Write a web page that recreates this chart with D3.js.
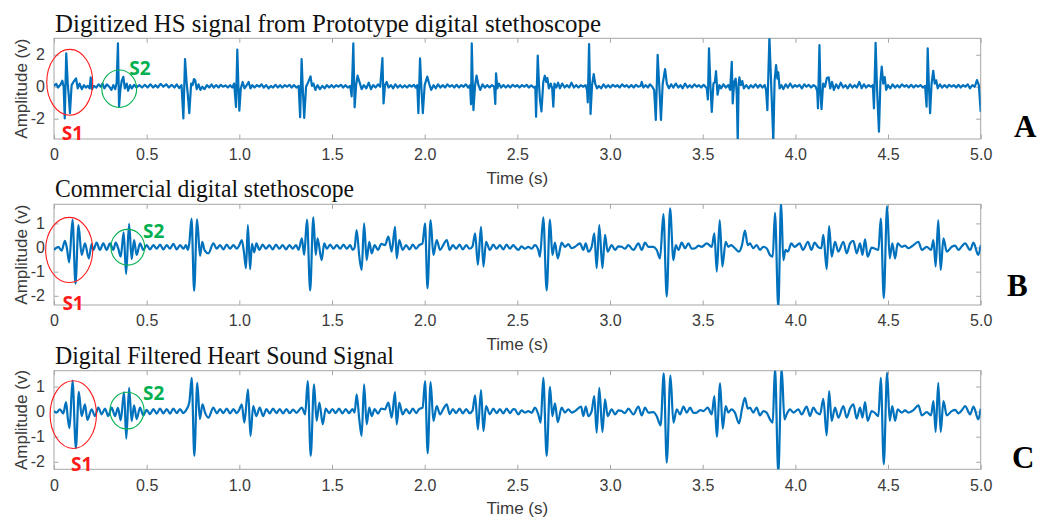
<!DOCTYPE html>
<html>
<head>
<meta charset="utf-8">
<script src="https://cdn.jsdelivr.net/npm/d3@7"></script>
<style>
  html, body { margin: 0; padding: 0; background: #fff; }
  svg { display: block; }
</style>
</head>
<body>
<svg id="chart" width="1038" height="517"></svg>
<script>
// ---- Data: heart sound recordings, time (s) and amplitude (v) ----
const timeTicks = [0, 0.5, 1.0, 1.5, 2.0, 2.5, 3.0, 3.5, 4.0, 4.5, 5.0];
const ampTicksA = [-2, 0, 2];
const ampTicksB = [-2, -1, 0, 1];
const ampTicksC = [-2, -1, 0, 1];
const titles = [
  "Digitized HS signal from Prototype digital stethoscope",
  "Commercial digital stethoscope",
  "Digital Filtered Heart Sound Signal"
];
const panelLetters = ["A", "B", "C"];

// Prototype stethoscope, raw digitized signal
const sigA = [
[0.000,0.05],[0.012,0.18],[0.022,-0.05],[0.035,0.12],[0.045,0.38],[0.052,0.0],[0.058,-1.98],[0.066,2.09],[0.074,0.2],[0.080,-0.6],[0.086,-1.66],[0.095,0.1],[0.105,0.3],[0.119,0.52],[0.128,-0.1],[0.138,0.2],[0.150,-0.15],[0.162,0.1],[0.172,-0.05],[0.182,0.05],[0.192,-0.1],[0.198,0.58],[0.205,-0.15],[0.215,0.05],[0.228,-0.05],[0.240,0.15],[0.252,0.0],[0.262,0.2],[0.272,-0.1],[0.285,0.15],[0.298,0.0],[0.310,-0.2],[0.320,0.1],[0.330,-0.15],[0.338,0.25],[0.345,2.71],[0.351,-1.25],[0.358,-0.2],[0.365,0.35],[0.374,0.62],[0.382,-0.1],[0.392,0.2],[0.400,-0.25],[0.410,0.1],[0.420,-0.1],[0.432,0.12],[0.445,-0.05],[0.460,0.1],[0.475,-0.05],[0.490,0.12],[0.505,-0.05],[0.520,0.15],[0.535,-0.05],[0.548,0.1],[0.560,-0.05],[0.575,0.18],[0.590,0.0],[0.605,0.15],[0.620,-0.05],[0.635,0.12],[0.650,-0.05],[0.662,0.15],[0.675,-0.08],[0.688,0.1],[0.698,-1.98],[0.707,1.73],[0.716,0.2],[0.722,-0.5],[0.730,-1.66],[0.740,0.2],[0.748,0.1],[0.755,0.48],[0.762,0.4],[0.770,-0.15],[0.780,0.15],[0.790,-0.2],[0.800,0.0],[0.812,-0.15],[0.825,0.1],[0.838,-0.05],[0.850,0.15],[0.862,-0.05],[0.875,0.1],[0.888,-0.05],[0.900,0.12],[0.912,0.0],[0.925,0.08],[0.938,-0.05],[0.950,0.1],[0.962,-0.05],[0.972,0.2],[0.982,-1.27],[0.989,2.33],[0.995,0.0],[1.000,-1.5],[1.008,-0.1],[1.018,0.3],[1.028,-0.1],[1.040,0.1],[1.050,0.3],[1.060,-0.1],[1.070,0.1],[1.082,-0.05],[1.095,0.1],[1.108,0.0],[1.120,0.15],[1.132,-0.05],[1.145,0.1],[1.158,-0.1],[1.170,0.05],[1.182,-0.05],[1.195,0.12],[1.208,-0.05],[1.220,0.1],[1.232,-0.05],[1.245,0.1],[1.258,0.0],[1.270,0.12],[1.282,-0.05],[1.295,0.1],[1.308,-0.05],[1.320,0.05],[1.328,-1.9],[1.336,1.73],[1.343,-0.3],[1.350,-1.95],[1.360,0.0],[1.372,0.3],[1.384,0.65],[1.392,0.05],[1.400,0.2],[1.410,-0.2],[1.422,0.1],[1.435,-0.15],[1.448,0.05],[1.460,-0.1],[1.472,0.1],[1.485,-0.05],[1.498,0.1],[1.510,-0.05],[1.522,0.1],[1.535,0.0],[1.548,0.12],[1.560,-0.05],[1.572,0.1],[1.585,-0.05],[1.598,0.05],[1.606,-0.6],[1.615,2.71],[1.622,-1.29],[1.630,0.1],[1.638,0.69],[1.648,0.3],[1.660,-0.15],[1.672,0.1],[1.685,-0.1],[1.698,0.25],[1.710,-0.15],[1.722,0.1],[1.735,-0.05],[1.748,0.15],[1.760,0.0],[1.772,1.79],[1.778,-1.04],[1.786,0.1],[1.795,0.3],[1.805,-0.05],[1.818,0.1],[1.830,-0.1],[1.842,0.15],[1.855,-0.05],[1.868,0.1],[1.880,-0.05],[1.893,0.08],[1.905,-0.05],[1.918,0.1],[1.930,0.0],[1.942,0.12],[1.952,-0.05],[1.960,0.1],[1.966,-1.66],[1.975,1.77],[1.982,0.0],[1.990,-1.66],[2.000,0.1],[2.014,0.63],[2.024,0.2],[2.035,-0.2],[2.048,0.1],[2.060,-0.1],[2.072,0.15],[2.085,-0.05],[2.098,0.1],[2.110,-0.05],[2.122,0.15],[2.135,0.0],[2.148,0.1],[2.160,-0.05],[2.172,0.12],[2.185,-0.05],[2.198,0.1],[2.210,0.0],[2.222,0.15],[2.235,-0.05],[2.245,0.1],[2.250,-1.1],[2.254,2.71],[2.263,-1.46],[2.272,0.1],[2.280,0.7],[2.290,0.1],[2.300,-0.2],[2.312,0.15],[2.325,-0.05],[2.338,0.1],[2.350,-0.05],[2.362,0.1],[2.375,0.0],[2.381,-1.08],[2.385,0.83],[2.392,-0.1],[2.400,0.2],[2.412,-0.05],[2.425,0.1],[2.438,-0.05],[2.450,0.1],[2.462,-0.05],[2.475,0.12],[2.488,0.0],[2.500,0.1],[2.512,-0.05],[2.525,0.1],[2.538,0.0],[2.550,0.12],[2.562,-0.05],[2.575,0.08],[2.588,-0.05],[2.597,0.0],[2.601,-1.88],[2.610,1.94],[2.617,0.1],[2.622,-0.8],[2.630,-1.54],[2.640,0.3],[2.648,0.69],[2.656,0.3],[2.662,0.55],[2.670,-0.1],[2.680,0.2],[2.688,-0.1],[2.694,-1.25],[2.700,0.2],[2.710,-0.05],[2.720,0.25],[2.730,-0.1],[2.742,0.2],[2.755,-0.05],[2.768,0.1],[2.780,-0.05],[2.792,0.25],[2.805,-0.05],[2.818,0.1],[2.830,-0.05],[2.842,0.1],[2.855,0.0],[2.868,0.1],[2.876,-0.2],[2.880,-0.98],[2.887,2.67],[2.895,-1.71],[2.903,0.1],[2.912,0.79],[2.920,0.2],[2.930,-0.1],[2.940,0.05],[2.952,-0.1],[2.965,0.15],[2.978,-0.05],[2.990,0.1],[3.002,-0.05],[3.015,0.12],[3.028,0.0],[3.040,0.1],[3.052,-0.05],[3.065,0.15],[3.078,0.0],[3.090,0.1],[3.102,-0.05],[3.115,0.1],[3.128,-0.05],[3.140,0.12],[3.152,0.0],[3.165,0.05],[3.171,0.3],[3.180,-0.05],[3.192,0.1],[3.205,-0.05],[3.215,0.15],[3.228,0.0],[3.238,-0.2],[3.247,-2.08],[3.257,2.0],[3.266,0.0],[3.275,-2.08],[3.284,0.17],[3.297,1.1],[3.307,0.17],[3.318,-0.1],[3.330,0.15],[3.342,-0.05],[3.355,0.2],[3.368,-0.05],[3.380,0.1],[3.392,-0.1],[3.405,0.2],[3.418,-0.05],[3.430,0.1],[3.442,-0.05],[3.455,0.15],[3.468,0.0],[3.480,0.1],[3.492,-0.05],[3.505,0.12],[3.515,0.0],[3.522,-0.1],[3.528,-0.8],[3.534,2.4],[3.542,0.0],[3.549,-1.57],[3.558,0.2],[3.566,0.3],[3.572,0.97],[3.580,-0.5],[3.590,0.1],[3.600,-0.1],[3.612,0.15],[3.625,-0.05],[3.638,0.1],[3.648,-0.2],[3.657,1.56],[3.662,-1.04],[3.670,0.3],[3.678,0.5],[3.684,-0.5],[3.689,-3.4],[3.694,0.2],[3.698,0.58],[3.706,0.1],[3.714,0.35],[3.722,-0.1],[3.735,0.1],[3.748,-0.1],[3.760,0.1],[3.772,-0.05],[3.785,0.15],[3.798,-0.05],[3.810,0.12],[3.822,-0.05],[3.835,0.1],[3.842,-0.2],[3.849,-1.46],[3.860,3.15],[3.870,0.0],[3.881,-3.4],[3.888,0.4],[3.896,1.36],[3.903,0.5],[3.908,0.9],[3.915,-0.1],[3.925,0.1],[3.935,-0.15],[3.948,0.15],[3.960,-0.05],[3.972,0.2],[3.985,-0.05],[3.998,0.1],[4.010,0.0],[4.022,0.12],[4.035,-0.1],[4.048,0.15],[4.060,0.0],[4.072,0.12],[4.085,-0.05],[4.098,0.1],[4.110,0.0],[4.118,-0.3],[4.122,-1.35],[4.130,2.6],[4.136,-0.5],[4.141,-1.4],[4.150,0.2],[4.160,0.0],[4.170,0.55],[4.180,0.59],[4.188,-0.1],[4.198,0.3],[4.208,-0.2],[4.220,0.15],[4.232,-0.1],[4.245,0.25],[4.258,-0.05],[4.270,0.1],[4.282,-0.1],[4.295,0.15],[4.308,-0.05],[4.320,0.1],[4.332,-0.05],[4.345,0.3],[4.358,-0.1],[4.370,0.15],[4.382,-0.05],[4.395,0.1],[4.408,0.0],[4.418,0.1],[4.424,-1.35],[4.433,2.75],[4.441,-0.2],[4.451,-2.81],[4.459,0.3],[4.466,1.26],[4.474,0.2],[4.482,0.6],[4.490,-0.2],[4.500,0.1],[4.512,-0.1],[4.525,0.15],[4.538,-0.05],[4.550,0.1],[4.562,-0.05],[4.575,0.15],[4.588,0.0],[4.600,0.1],[4.612,-0.05],[4.625,0.12],[4.638,-0.05],[4.650,0.1],[4.662,0.0],[4.675,0.1],[4.688,-0.05],[4.700,0.05],[4.708,-1.25],[4.714,2.4],[4.720,0.2],[4.727,-1.66],[4.735,0.2],[4.744,1.0],[4.752,0.2],[4.760,0.4],[4.768,-0.1],[4.780,0.15],[4.792,-0.05],[4.805,0.1],[4.818,-0.05],[4.830,0.12],[4.842,0.0],[4.855,0.1],[4.868,-0.05],[4.880,0.12],[4.892,-0.05],[4.905,0.1],[4.918,0.0],[4.930,0.15],[4.942,-0.1],[4.955,0.1],[4.968,0.0],[4.980,0.42],[4.990,0.1],[5.000,-1.57]
];

// Commercial stethoscope recording
const sigB = [
[0.000,-0.10],[0.023,0.03],[0.041,-0.13],[0.059,0.28],[0.070,-0.05],[0.082,-0.62],[0.100,1.16],[0.116,-1.5],[0.132,0.93],[0.149,-0.31],[0.167,0.17],[0.188,-0.45],[0.203,0.14],[0.212,-0.1],[0.230,0.2],[0.248,-0.1],[0.266,0.17],[0.284,-0.1],[0.302,0.17],[0.320,-0.1],[0.333,0.2],[0.347,-0.05],[0.360,-0.38],[0.376,0.63],[0.389,-1.1],[0.405,0.98],[0.419,-0.48],[0.432,0.31],[0.446,-0.31],[0.464,0.17],[0.482,-0.1],[0.500,0.1],[0.518,-0.08],[0.536,0.1],[0.554,-0.05],[0.572,0.12],[0.590,-0.08],[0.608,0.1],[0.626,-0.05],[0.644,0.15],[0.662,-0.08],[0.680,0.1],[0.698,-0.05],[0.712,0.1],[0.722,-0.1],[0.730,0.17],[0.742,1.2],[0.756,-1.8],[0.772,1.17],[0.788,-0.35],[0.800,0.24],[0.812,-0.1],[0.833,-0.24],[0.860,0.17],[0.878,-0.05],[0.896,0.1],[0.914,-0.08],[0.932,0.12],[0.950,-0.05],[0.968,0.1],[0.986,-0.05],[1.000,0.1],[1.013,0.31],[1.025,-0.2],[1.036,-0.86],[1.046,0.93],[1.058,-0.9],[1.068,0.15],[1.080,-0.2],[1.092,0.17],[1.108,-0.1],[1.126,0.12],[1.144,-0.05],[1.162,0.1],[1.180,-0.08],[1.198,0.12],[1.216,-0.05],[1.234,0.1],[1.252,-0.08],[1.270,0.1],[1.288,-0.05],[1.306,0.1],[1.320,-0.1],[1.337,0.38],[1.350,-0.3],[1.365,1.16],[1.382,-1.78],[1.399,1.25],[1.412,-0.3],[1.422,0.38],[1.444,-0.52],[1.458,0.17],[1.472,-0.05],[1.490,0.12],[1.508,-0.05],[1.526,0.1],[1.544,-0.05],[1.562,0.12],[1.580,-0.05],[1.598,0.1],[1.612,-0.1],[1.622,0.0],[1.633,0.72],[1.647,-0.35],[1.660,-0.93],[1.673,1.0],[1.687,-0.52],[1.701,0.24],[1.714,-0.24],[1.730,0.1],[1.748,-0.1],[1.766,0.15],[1.786,0.1],[1.804,0.45],[1.822,-0.17],[1.840,0.86],[1.849,-0.45],[1.863,0.31],[1.881,-0.1],[1.900,0.1],[1.918,-0.08],[1.936,0.12],[1.954,-0.05],[1.970,0.1],[1.988,0.17],[2.002,1.0],[2.015,-1.69],[2.032,1.14],[2.047,-0.31],[2.065,0.31],[2.083,-0.1],[2.100,0.1],[2.119,0.31],[2.135,-0.1],[2.152,0.1],[2.170,-0.05],[2.188,0.12],[2.206,-0.08],[2.224,0.1],[2.242,-0.05],[2.258,0.05],[2.272,0.59],[2.287,-0.72],[2.304,0.86],[2.317,-0.79],[2.331,0.24],[2.352,-0.1],[2.370,0.12],[2.388,-0.05],[2.406,0.1],[2.424,-0.08],[2.442,0.12],[2.460,-0.05],[2.478,0.1],[2.487,0.03],[2.505,-0.1],[2.523,0.05],[2.541,-0.05],[2.559,0.03],[2.577,-0.05],[2.595,0.1],[2.613,-0.1],[2.622,-0.38],[2.640,1.25],[2.658,-1.78],[2.676,1.16],[2.689,-0.31],[2.703,0.2],[2.718,-0.45],[2.739,0.2],[2.757,0.03],[2.775,0.14],[2.793,-0.03],[2.811,0.03],[2.838,0.17],[2.856,-0.1],[2.869,0.17],[2.883,-0.17],[2.901,0.03],[2.915,0.59],[2.928,-0.86],[2.942,0.93],[2.959,-0.86],[2.973,0.52],[2.987,-0.17],[3.009,0.1],[3.027,-0.1],[3.045,0.05],[3.063,0.03],[3.081,-0.05],[3.099,0.1],[3.126,-0.1],[3.153,0.17],[3.171,-0.1],[3.189,0.2],[3.207,0.03],[3.234,0.03],[3.252,-0.1],[3.270,-0.45],[3.288,1.38],[3.306,-2.03],[3.324,1.62],[3.342,-0.52],[3.355,0.1],[3.369,-0.1],[3.387,0.2],[3.405,-0.03],[3.423,0.17],[3.441,-0.05],[3.459,-0.03],[3.477,0.08],[3.495,0.03],[3.522,0.17],[3.549,0.03],[3.563,0.59],[3.576,-1.0],[3.592,1.14],[3.606,-0.79],[3.624,0.24],[3.638,0.03],[3.653,0.1],[3.674,-0.03],[3.696,-0.17],[3.712,0.1],[3.728,0.7],[3.743,0.1],[3.755,0.17],[3.773,-0.03],[3.791,0.1],[3.809,-0.1],[3.827,0.03],[3.845,-0.03],[3.863,-0.31],[3.878,-0.38],[3.890,1.44],[3.908,-2.5],[3.923,1.9],[3.935,-0.52],[3.947,-0.1],[3.960,-0.17],[3.978,0.17],[3.996,0.03],[4.023,0.17],[4.041,-0.1],[4.068,0.24],[4.086,-0.1],[4.104,0.2],[4.122,0.03],[4.140,-0.03],[4.151,0.52],[4.169,-0.9],[4.182,0.89],[4.196,-0.38],[4.214,0.24],[4.232,-0.17],[4.259,0.24],[4.277,-0.24],[4.295,0.17],[4.313,0.28],[4.331,-0.24],[4.349,0.17],[4.362,-0.31],[4.376,0.34],[4.390,-0.38],[4.412,0.0],[4.430,-0.05],[4.448,-0.1],[4.461,1.2],[4.477,-2.1],[4.495,1.72],[4.509,-0.45],[4.523,0.17],[4.538,-0.45],[4.552,0.17],[4.574,0.03],[4.592,0.08],[4.610,-0.03],[4.637,0.1],[4.664,0.24],[4.682,-0.1],[4.709,0.03],[4.732,-0.1],[4.745,0.31],[4.757,-0.79],[4.771,1.14],[4.784,-0.93],[4.799,0.38],[4.817,-0.17],[4.844,0.03],[4.862,0.08],[4.880,-0.1],[4.898,0.05],[4.916,0.17],[4.943,-0.1],[4.961,0.2],[4.987,-0.31],[5.000,0.1]
];

// Same recording after digital filtering
const sigC = [
[0.000,0.02],[0.014,-0.04],[0.032,0.09],[0.050,-0.07],[0.065,0.38],[0.075,-0.3],[0.084,-0.66],[0.100,1.24],[0.118,-1.46],[0.134,0.79],[0.149,-0.18],[0.167,0.29],[0.180,-0.33],[0.203,0.09],[0.221,-0.18],[0.239,0.16],[0.257,-0.11],[0.275,0.12],[0.293,-0.18],[0.311,0.16],[0.329,-0.18],[0.345,0.15],[0.360,-0.35],[0.378,0.78],[0.390,-1.08],[0.405,0.95],[0.419,-0.37],[0.432,0.25],[0.446,-0.3],[0.464,0.16],[0.482,-0.15],[0.500,0.07],[0.518,-0.1],[0.536,0.1],[0.554,-0.08],[0.572,0.12],[0.590,-0.07],[0.608,0.1],[0.626,-0.08],[0.644,0.12],[0.662,-0.06],[0.680,0.1],[0.698,-0.06],[0.712,0.05],[0.730,0.36],[0.743,1.35],[0.757,-1.77],[0.773,1.15],[0.787,-0.3],[0.801,0.29],[0.815,-0.04],[0.833,-0.24],[0.860,0.16],[0.878,-0.07],[0.896,0.1],[0.914,-0.06],[0.932,0.12],[0.950,-0.07],[0.968,0.1],[0.986,-0.06],[1.000,0.08],[1.013,0.29],[1.027,-0.44],[1.047,0.89],[1.060,-0.97],[1.075,0.22],[1.092,-0.18],[1.110,0.16],[1.128,-0.18],[1.146,0.1],[1.164,-0.07],[1.182,0.12],[1.200,-0.06],[1.218,0.1],[1.236,-0.07],[1.254,0.1],[1.272,-0.06],[1.290,0.08],[1.308,-0.05],[1.337,0.16],[1.355,-0.11],[1.369,1.22],[1.385,-1.77],[1.403,1.09],[1.417,-0.37],[1.432,0.36],[1.450,-0.51],[1.466,0.12],[1.484,-0.06],[1.502,0.1],[1.520,-0.06],[1.538,0.12],[1.556,-0.07],[1.574,0.1],[1.592,-0.06],[1.610,0.1],[1.622,-0.04],[1.633,0.69],[1.647,-0.3],[1.660,-0.97],[1.673,1.09],[1.687,-0.51],[1.701,0.16],[1.714,-0.18],[1.730,0.1],[1.748,-0.08],[1.766,0.12],[1.786,0.09],[1.804,0.36],[1.822,-0.24],[1.840,0.78],[1.849,-0.51],[1.863,0.36],[1.881,-0.11],[1.900,0.1],[1.918,-0.07],[1.936,0.12],[1.954,-0.06],[1.970,0.1],[1.989,0.16],[2.002,1.22],[2.016,-1.66],[2.032,1.18],[2.047,-0.37],[2.065,0.22],[2.083,-0.11],[2.100,0.1],[2.119,0.29],[2.135,-0.1],[2.152,0.1],[2.170,-0.06],[2.188,0.12],[2.206,-0.07],[2.224,0.1],[2.242,-0.06],[2.258,0.04],[2.272,0.65],[2.287,-0.71],[2.304,0.86],[2.317,-0.78],[2.331,0.22],[2.352,-0.11],[2.370,0.12],[2.388,-0.06],[2.406,0.1],[2.424,-0.07],[2.442,0.12],[2.460,-0.06],[2.478,0.1],[2.487,0.09],[2.505,-0.11],[2.523,0.05],[2.541,-0.04],[2.559,0.02],[2.577,-0.05],[2.595,0.16],[2.613,-0.11],[2.626,-0.44],[2.640,1.35],[2.658,-1.77],[2.676,0.99],[2.689,-0.18],[2.703,0.33],[2.718,-0.42],[2.739,0.16],[2.757,-0.04],[2.775,0.09],[2.793,-0.04],[2.811,0.02],[2.844,0.2],[2.856,-0.18],[2.869,0.2],[2.883,-0.18],[2.901,0.02],[2.915,0.62],[2.928,-0.84],[2.942,0.95],[2.959,-0.81],[2.973,0.49],[2.987,-0.18],[3.009,0.09],[3.027,-0.11],[3.045,0.05],[3.063,0.02],[3.081,-0.06],[3.099,0.12],[3.126,-0.11],[3.153,0.2],[3.171,-0.15],[3.189,0.16],[3.207,-0.04],[3.234,-0.02],[3.252,-0.18],[3.273,-0.55],[3.290,1.52],[3.306,-2.03],[3.326,1.44],[3.342,-0.44],[3.360,0.09],[3.378,-0.11],[3.396,0.2],[3.414,-0.04],[3.432,0.16],[3.450,-0.05],[3.468,-0.04],[3.486,0.06],[3.504,0.02],[3.527,0.16],[3.549,-0.11],[3.563,0.62],[3.576,-1.0],[3.594,1.13],[3.608,-0.68],[3.624,0.22],[3.638,-0.04],[3.656,0.09],[3.674,-0.04],[3.696,-0.47],[3.712,0.1],[3.728,0.55],[3.743,0.12],[3.755,0.16],[3.773,-0.04],[3.791,0.16],[3.809,-0.15],[3.827,0.02],[3.845,-0.04],[3.863,-0.31],[3.878,-0.44],[3.890,1.75],[3.908,-2.45],[3.926,1.75],[3.941,-0.31],[3.953,-0.11],[3.971,0.09],[3.989,-0.04],[4.016,0.09],[4.034,-0.11],[4.061,0.2],[4.079,-0.18],[4.097,0.16],[4.115,-0.04],[4.133,-0.11],[4.151,0.51],[4.169,-0.95],[4.182,0.82],[4.196,-0.37],[4.214,0.16],[4.232,-0.24],[4.259,0.22],[4.277,-0.24],[4.295,0.12],[4.313,0.29],[4.331,-0.28],[4.349,0.16],[4.362,-0.24],[4.376,0.38],[4.390,-0.37],[4.412,0.02],[4.430,-0.06],[4.448,-0.18],[4.461,1.35],[4.477,-2.1],[4.495,1.55],[4.509,-0.37],[4.523,0.22],[4.538,-0.37],[4.552,0.09],[4.574,-0.04],[4.592,0.05],[4.610,-0.04],[4.637,0.06],[4.664,0.25],[4.682,-0.15],[4.709,-0.02],[4.732,-0.15],[4.745,0.42],[4.757,-0.81],[4.771,1.15],[4.784,-0.81],[4.799,0.42],[4.817,-0.15],[4.844,0.02],[4.862,0.07],[4.880,-0.07],[4.898,0.05],[4.916,0.22],[4.943,-0.11],[4.961,0.2],[4.987,-0.31],[5.000,0.12]
];

// ---- Layout ----
const svg = d3.select("#chart");
const X0 = 54, X1 = 980.7;
const lineColor = "#0072BD";
const boxColor = "#a6a6a6";
const tickText = "#3a3a3a";
const sansFont = "'Liberation Sans', Arial, sans-serif";
const serifFont = "'Liberation Serif', 'Times New Roman', serif";

const panels = [
  { key: "A", data: sigA, ticks: ampTicksA, domain: [-3.27, 3.03], top: 38.3, bottom: 139,
    curve: d3.curveLinear, titleY: 32, titleLen: 546, letter: [1014, 136.5],
    s1: { t: 0.085, v: 0.275, rt: 0.124, rv: 2.06, lt: 0.100, lv: -2.9 },
    s2: { t: 0.352, v: -0.125, rt: 0.094, rv: 1.17, lt: 0.464, lv: 1.19 } },
  { key: "B", data: sigB, ticks: ampTicksB, domain: [-2.38, 1.79], top: 204.3, bottom: 305,
    curve: d3.curveMonotoneX, titleY: 196.5, titleLen: 299, letter: [1007, 296],
    s1: { t: 0.082, v: -0.10, rt: 0.127, rv: 1.35, lt: 0.103, lv: -2.28 },
    s2: { t: 0.398, v: 0.01, rt: 0.091, rv: 0.74, lt: 0.538, lv: 0.68 } },
  { key: "C", data: sigC, ticks: ampTicksC, domain: [-2.3, 1.63], top: 370.7, bottom: 469.3,
    curve: d3.curveMonotoneX, titleY: 363.5, titleLen: 339, letter: [1012, 468],
    s1: { t: 0.104, v: -0.12, rt: 0.125, rv: 1.35, lt: 0.149, lv: -2.1 },
    s2: { t: 0.394, v: 0.04, rt: 0.092, rv: 0.73, lt: 0.538, lv: 0.73 } }
];

const x = d3.scaleLinear().domain([0, 5]).range([X0, X1]);
const fmtTime = d => d === 0 ? "0" : d3.format(".1f")(d);

panels.forEach((p, i) => {
  const y = d3.scaleLinear().domain(p.domain).range([p.bottom, p.top]);
  const g = svg.append("g");

  // title
  g.append("text")
    .attr("x", 55).attr("y", p.titleY)
    .attr("font-family", serifFont).attr("font-size", 25)
    .attr("fill", "#111")
    .attr("textLength", p.titleLen).attr("lengthAdjust", "spacingAndGlyphs")
    .text(titles[i]);

  // clip for the signal trace
  svg.append("clipPath").attr("id", "clip" + p.key)
    .append("rect")
    .attr("x", X0).attr("y", p.top)
    .attr("width", X1 - X0).attr("height", p.bottom - p.top);

  // bottom axis with inward ticks
  const xb = d3.axisBottom(x).tickValues(timeTicks).tickFormat(fmtTime).tickSize(-4.5).tickPadding(10);
  const gxb = g.append("g").attr("transform", `translate(0,${p.bottom})`).call(xb);
  // top axis, ticks only
  const gxt = g.append("g").attr("transform", `translate(0,${p.top})`)
    .call(d3.axisTop(x).tickValues(timeTicks).tickFormat("").tickSize(-4.5));
  // left axis
  const gyl = g.append("g").attr("transform", `translate(${X0},0)`)
    .call(d3.axisLeft(y).tickValues(p.ticks).tickFormat(d3.format("d")).tickSize(-4.5).tickPadding(9));
  // right axis, ticks only
  const gyr = g.append("g").attr("transform", `translate(${X1},0)`)
    .call(d3.axisRight(y).tickValues(p.ticks).tickFormat("").tickSize(-4.5));

  [gxb, gxt, gyl, gyr].forEach(a => {
    a.select(".domain").remove();
    a.selectAll(".tick line").attr("stroke", boxColor);
    a.selectAll(".tick text")
      .attr("font-family", sansFont).attr("font-size", 16)
      .attr("fill", tickText);
  });
  gyl.selectAll(".tick text").text(d => d < 0 ? "-" + Math.abs(d) : String(d));

  // box
  g.append("rect")
    .attr("x", X0).attr("y", p.top)
    .attr("width", X1 - X0).attr("height", p.bottom - p.top)
    .attr("fill", "none").attr("stroke", boxColor).attr("stroke-width", 1);

  // axis labels
  g.append("text")
    .attr("x", (X0 + X1) / 2).attr("y", p.bottom + 45)
    .attr("text-anchor", "middle")
    .attr("font-family", sansFont).attr("font-size", 17).attr("fill", tickText)
    .text("Time (s)");
  g.append("text")
    .attr("transform", `translate(27,${(p.top + p.bottom) / 2}) rotate(-90)`)
    .attr("text-anchor", "middle")
    .attr("font-family", sansFont).attr("font-size", 17).attr("fill", tickText)
    .text("Amplitude (v)");

  // signal trace
  const line = d3.line().x(d => x(d[0])).y(d => y(d[1])).curve(p.curve);
  g.append("path")
    .datum(p.data)
    .attr("clip-path", `url(#clip${p.key})`)
    .attr("d", line)
    .attr("fill", "none")
    .attr("stroke", lineColor)
    .attr("stroke-width", 2.2)
    .attr("stroke-linejoin", "round");

  // S1 / S2 markers
  const kx = (X1 - X0) / 5;
  const ky = (p.bottom - p.top) / (p.domain[1] - p.domain[0]);
  const marks = [
    { m: p.s1, color: "#ff1a1a", label: "S1" },
    { m: p.s2, color: "#00b050", label: "S2" }
  ];
  marks.forEach(({ m, color, label }) => {
    g.append("ellipse")
      .attr("cx", x(m.t)).attr("cy", y(m.v))
      .attr("rx", m.rt * kx).attr("ry", m.rv * ky)
      .attr("fill", "none").attr("stroke", color).attr("stroke-width", 1.1);
    g.append("text")
      .attr("x", x(m.lt)).attr("y", y(m.lv))
      .attr("text-anchor", "middle").attr("dominant-baseline", "central")
      .attr("font-family", "'Open Sans', 'Noto Sans', sans-serif")
      .attr("font-weight", "bold").attr("font-size", 19)
      .attr("fill", color)
      .text(label);
  });

  // panel letter
  g.append("text")
    .attr("x", p.letter[0]).attr("y", p.letter[1])
    .attr("font-family", serifFont).attr("font-weight", "bold").attr("font-size", 31)
    .attr("fill", "#000")
    .text(panelLetters[i]);
});
</script>
</body>
</html>
